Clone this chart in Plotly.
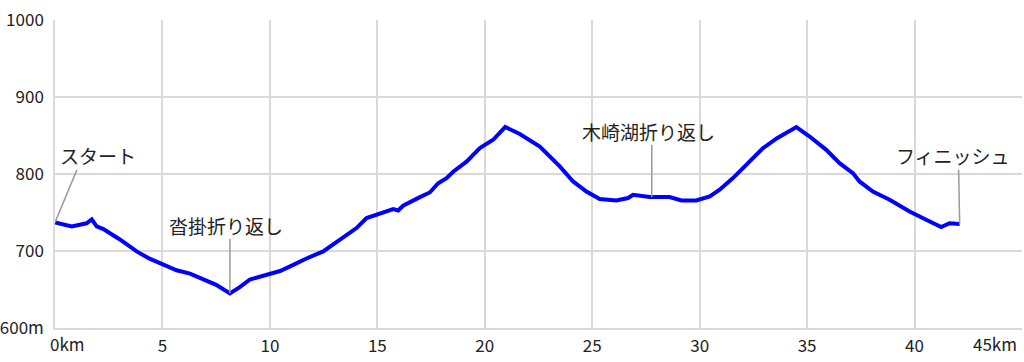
import plotly.graph_objects as go

# Course elevation profile (distance in km, elevation in m)
distance_km = [0, 0.78, 1.47, 1.71, 1.94, 2.25, 3.02, 3.8, 4.4, 5.04, 5.66, 6.28, 6.98, 7.5, 8.14,
               8.6, 9.07, 9.84, 10.47, 11.09, 11.6, 12.48, 13.26, 14.03, 14.5, 15.12, 15.74, 15.97,
               16.2, 16.98, 17.44, 17.83, 18.22, 18.53, 19.15, 19.77, 20.39, 20.95, 21.63, 22.56,
               23.49, 24.11, 24.73, 25.35, 26.12, 26.67, 26.9, 27.67, 28.6, 29.15, 29.84, 30.47,
               30.93, 31.55, 32.33, 32.95, 33.6, 34.5, 35.12, 35.89, 36.51, 37.13, 37.44, 38.06,
               38.84, 39.77, 40.54, 41.24, 41.63, 42.1]
elevation_m = [737, 732, 736, 741, 732, 728.5, 715, 699.5, 690, 682, 675, 670.6, 663, 656, 645,
               653, 663, 669, 674, 682, 689, 699.5, 714.7, 729.8, 742.8, 748, 754.4, 752.7,
               758.8, 770, 776, 788, 794.7, 803, 816, 833.6, 844.4, 861, 852, 835.7,
               809.8, 790.3, 777.3, 767.4, 765.7, 768.8, 773, 770, 770, 765.7, 765.7, 770.8,
               779.5, 794.7, 817, 833.6, 846.5, 861, 848.7, 831.4, 814, 801.2, 790.3, 777.3,
               766.5, 751.4, 740.6, 731, 736, 735]

x_tickvals = [5, 10, 15, 20, 25, 30, 35, 40]
x_ticktext = ["5", "10", "15", "20", "25", "30", "35", "40"]
y_tickvals = [600, 700, 800, 900, 1000]
y_ticktext = ["600m", "700", "800", "900", "1000"]

# Labels: text, text position (km, m), leader line from (km, m) to (km, m)
label_texts = ["スタート", "沓掛折り返し", "木崎湖折り返し", "フィニッシュ"]
label_x = [0.14, 7.98, 27.6, 41.79]
label_y = [823.6, 732.8, 854.7, 823.6]
label_anchor = ["left", "center", "center", "center"]
leader_x0 = [0, 8.14, 27.77, 42.1]
leader_y0 = [737, 645, 770, 735]
leader_x1 = [1.02, 8.14, 27.77, 42.05]
leader_y1 = [805.4, 716, 838, 805.4]

FONT = "Noto Sans CJK JP"
GRID = "#d9d9d9"
TICK_FONT = dict(family=FONT, size=17, color="#222222")

fig = go.Figure()
fig.add_trace(go.Scatter(
    x=distance_km, y=elevation_m, mode="lines",
    line=dict(color="#0000ff", width=4),
    hoverinfo="x+y", showlegend=False,
))

for x0, y0, x1, y1 in zip(leader_x0, leader_y0, leader_x1, leader_y1):
    fig.add_shape(type="line", xref="x", yref="y", x0=x0, y0=y0, x1=x1, y1=y1,
                  line=dict(color="#9a9a9a", width=1.5), layer="above")

for t, x, y, a in zip(label_texts, label_x, label_y, label_anchor):
    fig.add_annotation(x=x, y=y, xref="x", yref="y", text=t, showarrow=False,
                       xanchor=a, yanchor="middle",
                       font=dict(family=FONT, size=19, color="#222222"))

# End tick labels of the x axis
fig.add_annotation(x=0, y=0, xref="x", yref="paper", text="0km", showarrow=False,
                   xanchor="left", yanchor="top", xshift=-7, yshift=-1,
                   font=TICK_FONT)
fig.add_annotation(x=45, y=0, xref="x", yref="paper", text="45km", showarrow=False,
                   xanchor="right", yanchor="top", xshift=-3, yshift=-1,
                   font=TICK_FONT)

fig.update_layout(
    width=1024, height=362,
    margin=dict(l=55, r=2, t=20, b=34),
    paper_bgcolor="white", plot_bgcolor="white",
    font=dict(family=FONT, size=19, color="#222222"),
    xaxis=dict(range=[0, 45], tickvals=x_tickvals, ticktext=x_ticktext,
               tickfont=TICK_FONT,
               showgrid=True, gridcolor=GRID, gridwidth=1.5,
               showline=True, linecolor=GRID, linewidth=1.5,
               zeroline=False, ticks="", ticklabelstandoff=2, automargin=False,
               fixedrange=True),
    yaxis=dict(range=[600, 1000], tickvals=y_tickvals, ticktext=y_ticktext,
               tickfont=TICK_FONT,
               showgrid=True, gridcolor=GRID, gridwidth=1.5,
               showline=True, linecolor=GRID, linewidth=1.5,
               zeroline=False, ticks="", ticklabelstandoff=6, automargin=False,
               fixedrange=True),
)

fig.write_html("out.html", config={"displayModeBar": False})
